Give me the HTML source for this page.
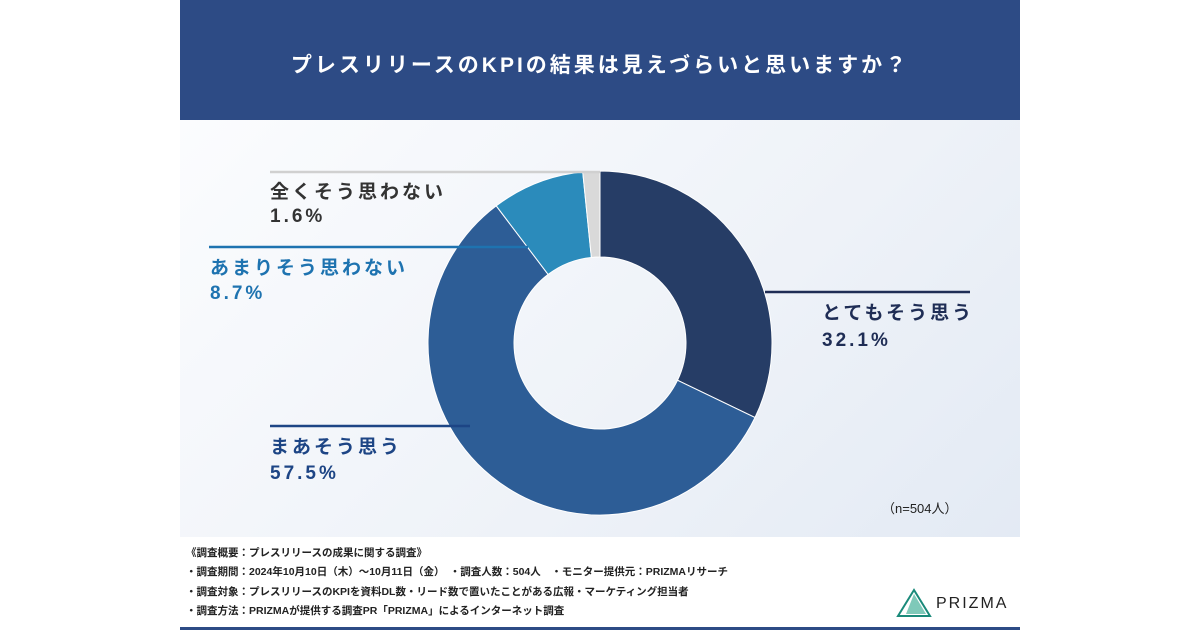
<!DOCTYPE html>
<html><head><meta charset="utf-8"><style>
body{margin:0;width:1200px;height:630px;background:#fff;position:relative;overflow:hidden;font-family:"Liberation Sans","Noto Sans CJK JP",sans-serif}
.abs{position:absolute}
.lbl{position:absolute;font-weight:bold;font-size:19px;letter-spacing:3px;white-space:nowrap}
.foot{position:absolute;left:186px;font-size:10.5px;font-weight:bold;color:#222;white-space:nowrap}
</style></head><body>
<div class="abs" style="left:180px;top:0;width:840px;height:120px;background:#2d4b85"></div>
<div class="abs" style="left:180px;top:49px;width:840px;text-align:center;color:#fff;font-size:21px;font-weight:bold;letter-spacing:3px">プレスリリースのKPIの結果は見えづらいと思いますか？</div>
<div class="abs" style="left:180px;top:120px;width:840px;height:417px;background:linear-gradient(135deg,#fbfcfe 0%,#eef2f8 60%,#e3eaf4 100%)"></div>
<svg class="abs" id="chart" style="left:0;top:0" width="1200" height="630"></svg>
<div class="lbl" style="left:270px;top:177px;color:#333">全くそう思わない</div>
<div class="lbl" style="left:270px;top:206px;color:#333">1.6%</div>
<div class="lbl" style="left:210px;top:253px;color:#1e73b0">あまりそう思わない</div>
<div class="lbl" style="left:210px;top:283px;color:#1e73b0">8.7%</div>
<div class="lbl" style="left:822px;top:298px;color:#1f2d55">とてもそう思う</div>
<div class="lbl" style="left:822px;top:330px;color:#1f2d55">32.1%</div>
<div class="lbl" style="left:270px;top:432px;color:#1d4585">まあそう思う</div>
<div class="lbl" style="left:270px;top:463px;color:#1d4585">57.5%</div>
<div class="abs" style="left:882px;top:498px;font-size:13px;color:#222">（n=504人）</div>
<div class="foot" style="top:545px">《調査概要：プレスリリースの成果に関する調査》</div>
<div class="foot" style="top:564px">・調査期間：2024年10月10日（木）～10月11日（金）　・調査人数：504人　・モニター提供元：PRIZMAリサーチ</div>
<div class="foot" style="top:584px">・調査対象：プレスリリースのKPIを資料DL数・リード数で置いたことがある広報・マーケティング担当者</div>
<div class="foot" style="top:603px">・調査方法：PRIZMAが提供する調査PR「PRIZMA」によるインターネット調査</div>
<svg class="abs" style="left:896px;top:588px" width="36" height="30"><polygon points="18,2 2,28 34,28" fill="none" stroke="#1a8a7a" stroke-width="2"/><polygon points="18,6 10,26 30,26" fill="#2aa58a" opacity=".6"/></svg>
<div class="abs" style="left:936px;top:595px;font-size:16px;letter-spacing:2px;color:#222">PRIZMA</div>
<div class="abs" style="left:180px;top:627px;width:840px;height:3px;background:#2d4b85"></div>
<script>
const categories=["とてもそう思う","まあそう思う","あまりそう思わない","全くそう思わない"];
const values=[32.1,57.5,8.7,1.6];
const colors=["#263d66","#2d5d96","#2b8bbb","#d9d9d9"];
const svg=document.getElementById('chart');
const NS="http://www.w3.org/2000/svg";
const cx=600,cy=343,R=172,r=86;
const total=values.reduce((a,b)=>a+b,0);
function pt(a,rad){return [cx+rad*Math.sin(a),cy-rad*Math.cos(a)];}
let a0=0;
values.forEach((v,i)=>{
  const a1=a0+v/total*2*Math.PI;
  const large=(a1-a0)>Math.PI?1:0;
  const [x0,y0]=pt(a0,R),[x1,y1]=pt(a1,R),[x2,y2]=pt(a1,r),[x3,y3]=pt(a0,r);
  const p=document.createElementNS(NS,'path');
  p.setAttribute('d',`M${x0},${y0}A${R},${R} 0 ${large} 1 ${x1},${y1}L${x2},${y2}A${r},${r} 0 ${large} 0 ${x3},${y3}Z`);
  p.setAttribute('fill',colors[i]);
  p.setAttribute('stroke','#fff');p.setAttribute('stroke-width','1');
  
  
  svg.appendChild(p);
  a0=a1;
});
const leaders=[[765,292,970,292,"#1f2d55"],[270,426,470,426,"#1d4585"],[209,247,528,247,"#1e73b0"],[270,172,600,172,"#d0d0d0"]];
leaders.forEach((l,i)=>{
  const ln=document.createElementNS(NS,'line');
  ln.setAttribute('x1',l[0]);ln.setAttribute('y1',l[1]);ln.setAttribute('x2',l[2]);ln.setAttribute('y2',l[3]);
  ln.setAttribute('stroke',l[4]);ln.setAttribute('stroke-width','2.5');
  
  
  svg.appendChild(ln);
});
</script>
</body></html>
